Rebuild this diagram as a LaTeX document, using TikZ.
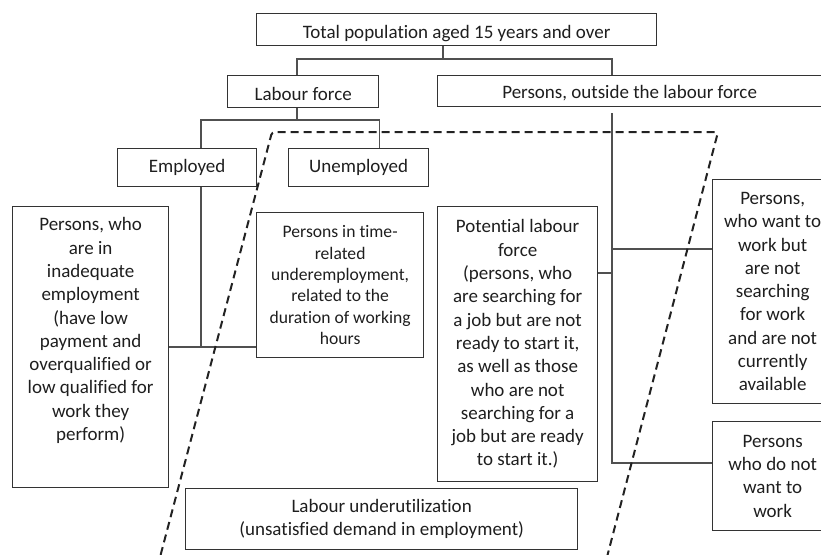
\documentclass[tikz,border=0pt]{standalone}
\usepackage{fontspec}
\setmainfont{Carlito}[Ligatures=NoCommon]
\definecolor{boxc}{HTML}{333333}
\definecolor{linec}{HTML}{505050}
\definecolor{txtc}{HTML}{1E1E1E}
\definecolor{dashc}{HTML}{222222}
\newcommand\lowered[2]{\raisebox{-#1}[\height][\depth]{#2}}
\begin{document}
\begin{tikzpicture}[x=1pt,y=-1pt,
  box/.style={draw=boxc, line width=1.3pt, inner sep=0pt, text=txtc, align=center,
    anchor=north west, font=\fontsize{19}{23.3}\selectfont},
  smallbox/.style={box, font=\fontsize{17.6}{21.3}\selectfont},
  conn/.style={draw=linec, line width=1.1pt},
  dashline/.style={draw=dashc, line width=2pt, dash pattern=on 8pt off 5pt, rounded corners=3pt}]
\useasboundingbox (0,0) rectangle (821,554);
\clip (0,0) rectangle (821,554);

% boxes
\node[box, minimum width=400, minimum height=32] (tot) at (256,13) {\lowered{4pt}{Total population aged 15 years and over}};
\node[box, minimum width=151, minimum height=32] (lf) at (227,75) {\lowered{2pt}{Labour force}};
\node[box, minimum width=400, minimum height=31] (out) at (437,75) {\lowered{2pt}{\hspace*{-8pt}Persons, outside the labour force\hspace*{8pt}}};
\node[box, minimum width=139, minimum height=38] (emp) at (117,148) {Employed};
\node[box, minimum width=140, minimum height=38] (unemp) at (288,148) {Unemployed};
\node[box] (left) at (12,206) {\parbox[c][281pt][t]{156pt}{\centering\vspace*{11pt}Persons, who\\are in\\inadequate\\employment\\(have low\\payment and\\overqualified or\\low qualified for\\work they\\perform)}};
\node[smallbox, minimum width=167, minimum height=145] (time) at (256,212) {Persons in time-\\related\\underemployment,\\related to the\\duration of working\\hours};
\node[box, minimum width=160, minimum height=275] (pot) at (437,206) {Potential labour\\force\\(persons, who\\are searching for\\a job but are not\\ready to start it,\\as well as those\\who are not\\searching for a\\job but are ready\\to start it.)};
\node[box, minimum width=120, minimum height=224] (want) at (712,179) {Persons,\\who want to\\work but\\are not\\searching\\for work\\and are not\\currently\\available};
\node[box, minimum width=120, minimum height=109] (dnw) at (712,421) {Persons\\who do not\\want to\\work};
\node[box, minimum width=392, minimum height=61] (und) at (185,488) {Labour underutilization\\(unsatisfied demand in employment)};

% junctions
\coordinate (cT) at (443,59);
\coordinate (cL) at (297,120);
\coordinate (cE) at (201,347);
\coordinate (cO) at (612,113);
\coordinate (cO2) at (612,463);
\coordinate (cP) at (612,273);
\coordinate (cW) at (612,249);

% connectors
\draw[conn] (tot.south -| cT) -- (cT);
\draw[conn] (lf.north -| cL) |- (cT) -| (out.north -| cO);
\draw[conn] (lf.south -| cL) -- (cL);
\draw[conn] (emp.north -| cE) |- (cL) -| (unemp.north -| lf.east);
\draw[conn] (emp.south -| cE) -- (cE);
\draw[conn] (left.east |- cE) -- (time.west |- cE);
\draw[conn] (cO) -- (cO2) -- (dnw.west |- cO2);
\draw[conn] (pot.east |- cP) -- (cP);
\draw[conn] (cW) -- (want.west |- cW);

% dashed region
\coordinate (d1) at (154,580);
\coordinate (d2) at (272,132);
\coordinate (d3) at (718,132);
\coordinate (d4) at (601,580);
\draw[dashline] (d1) -- (d2) -- (d3) -- (d4);
\end{tikzpicture}
\end{document}
